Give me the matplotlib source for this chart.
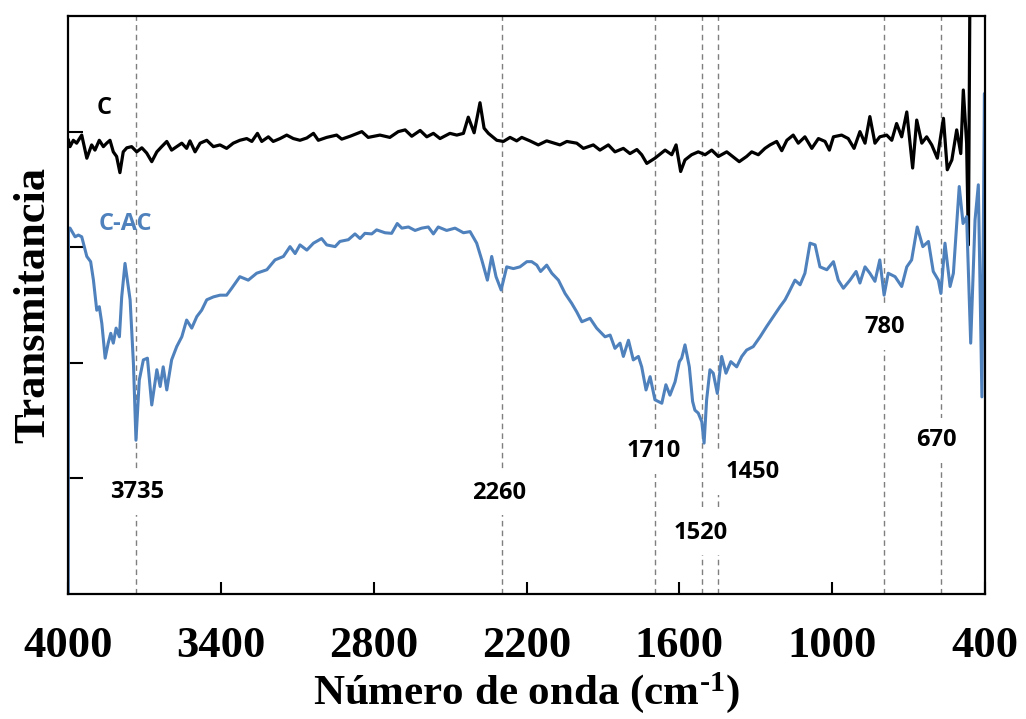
import numpy as np
import matplotlib
matplotlib.use("Agg")
import matplotlib.pyplot as plt

plt.rcParams["mathtext.fontset"] = "custom"
plt.rcParams["mathtext.bf"] = "Liberation Serif:bold"
plt.rcParams["mathtext.rm"] = "Liberation Serif:bold"
plt.rcParams["mathtext.default"] = "bf"

# wavenumber (cm-1) and transmittance (a.u.)
wn_c = [3999, 3993, 3980, 3967, 3947, 3927, 3908, 3895, 3878, 3862, 3849, 3836, 3823, 3810,
        3797, 3784, 3770, 3751, 3731, 3711, 3692, 3672, 3652, 3633, 3613, 3594, 3574, 3554,
        3535, 3522, 3502, 3482, 3456, 3430, 3404, 3378, 3352, 3326, 3299, 3279, 3257, 3240,
        3214, 3195, 3168, 3142, 3116, 3090, 3063, 3037, 3018, 2985, 2946, 2926, 2893, 2847,
        2822, 2776, 2737, 2704, 2677, 2651, 2618, 2592, 2566, 2540, 2501, 2474, 2448, 2429,
        2406, 2383, 2367, 2350, 2317, 2291, 2265, 2239, 2219, 2187, 2154, 2121, 2069, 2042,
        2003, 1977, 1938, 1912, 1879, 1853, 1820, 1794, 1767, 1748, 1728, 1696, 1656, 1630,
        1613, 1595, 1578, 1552, 1526, 1499, 1473, 1447, 1414, 1388, 1365, 1336, 1316, 1290,
        1264, 1244, 1218, 1198, 1178, 1153, 1133, 1107, 1080, 1054, 1028, 1011, 995, 963,
        937, 914, 891, 871, 852, 832, 813, 786, 766, 747, 727, 707, 684, 668, 648, 629, 609,
        587, 563, 548, 530, 511, 495, 485, 472, 465, 459]
t_c = [78.5, 77.4, 78.5, 78.0, 79.4, 75.4, 77.7, 76.8, 78.5, 77.4, 78.0, 78.5, 76.5, 75.7,
       72.9, 76.5, 77.2, 77.4, 76.5, 77.2, 76.3, 74.8, 76.5, 77.4, 78.3, 76.8, 77.4, 78.0,
       77.1, 78.4, 76.5, 78.0, 78.5, 77.4, 77.7, 77.1, 78.0, 78.5, 78.8, 78.3, 79.7, 78.3,
       79.1, 78.3, 78.8, 79.4, 78.8, 78.5, 78.9, 79.7, 78.5, 79.0, 79.4, 78.7, 79.2, 80.0,
       79.0, 79.4, 79.0, 80.0, 80.3, 79.2, 80.2, 79.1, 79.7, 78.8, 79.7, 79.4, 79.7, 82.5,
       79.8, 85.0, 80.6, 79.7, 78.5, 78.3, 79.0, 78.4, 79.0, 78.4, 77.7, 78.4, 77.7, 78.3,
       78.0, 77.1, 77.7, 76.8, 77.7, 76.5, 77.1, 76.2, 76.9, 76.0, 74.5, 75.4, 76.8, 76.0,
       77.7, 73.1, 75.1, 76.0, 76.5, 76.0, 76.8, 75.7, 76.5, 75.6, 74.8, 75.7, 76.5, 76.0,
       77.1, 77.7, 78.3, 76.7, 78.5, 79.4, 78.0, 79.1, 77.1, 78.8, 78.3, 76.8, 79.1, 79.4,
       78.8, 77.1, 80.0, 78.0, 82.6, 78.0, 79.1, 79.4, 78.5, 81.4, 79.1, 83.4, 73.7, 82.0,
       78.0, 79.1, 77.7, 75.4, 82.3, 73.4, 75.1, 80.3, 76.2, 87.2, 78.0, 60.4, 105.0]

wn_cac = [4000, 3999, 3993, 3973, 3960, 3947, 3927, 3912, 3901, 3888, 3878, 3868, 3855, 3843,
          3833, 3823, 3812, 3799, 3790, 3777, 3757, 3744, 3734, 3721, 3705, 3689, 3672, 3652,
          3639, 3627, 3613, 3594, 3574, 3554, 3535, 3515, 3495, 3476, 3456, 3430, 3404, 3378,
          3358, 3326, 3293, 3260, 3220, 3188, 3155, 3129, 3109, 3090, 3063, 3037, 3005, 2985,
          2952, 2933, 2900, 2874, 2854, 2835, 2808, 2789, 2756, 2730, 2708, 2690, 2664, 2638,
          2612, 2586, 2566, 2547, 2514, 2481, 2448, 2422, 2396, 2376, 2354, 2337, 2320, 2300,
          2278, 2252, 2226, 2199, 2180, 2160, 2145, 2121, 2101, 2075, 2049, 2023, 2003, 1983,
          1951, 1925, 1905, 1892, 1872, 1853, 1833, 1820, 1800, 1781, 1761, 1748, 1731, 1715,
          1696, 1669, 1653, 1637, 1617, 1600, 1591, 1578, 1561, 1548, 1539, 1526, 1512, 1503,
          1493, 1480, 1467, 1451, 1434, 1417, 1398, 1375, 1355, 1336, 1310, 1283, 1257, 1231,
          1205, 1185, 1172, 1146, 1126, 1107, 1087, 1067, 1048, 1021, 995, 976, 956, 930, 906,
          891, 871, 852, 832, 813, 796, 780, 753, 727, 707, 688, 666, 644, 622, 603, 583, 573,
          557, 537, 524, 501, 486, 472, 456, 439, 426, 412, 402, 400]
t_cac = [-3.0, 63.3, 63.3, 61.8, 62.1, 61.8, 58.4, 57.5, 54.3, 49.1, 49.7, 46.8, 40.8, 43.4,
         45.1, 43.4, 46.0, 44.5, 51.4, 57.2, 50.9, 39.9, 26.6, 37.0, 40.5, 40.8, 32.7, 38.8,
         35.9, 39.3, 35.3, 40.5, 42.8, 44.5, 47.4, 46.0, 48.0, 49.1, 50.9, 51.4, 51.7, 51.7,
         52.9, 54.9, 54.3, 55.5, 56.1, 57.8, 58.4, 60.1, 58.9, 60.4, 59.5, 60.7, 61.5, 60.4,
         60.1, 61.0, 61.3, 62.3, 61.5, 62.4, 62.3, 63.0, 62.5, 62.4, 64.1, 63.3, 63.5, 62.9,
         63.3, 63.5, 62.3, 63.5, 62.9, 63.3, 62.5, 62.7, 60.7, 57.8, 54.3, 58.4, 54.9, 52.6,
         56.6, 56.3, 56.6, 57.5, 57.5, 56.9, 55.8, 56.9, 55.5, 54.3, 52.0, 50.3, 48.8, 47.1,
         47.7, 46.0, 45.1, 44.5, 44.8, 42.5, 43.4, 41.1, 43.9, 40.5, 41.1, 39.3, 35.3, 37.6,
         33.6, 33.0, 36.2, 34.4, 36.7, 40.2, 40.8, 43.1, 39.3, 33.3, 31.8, 31.3, 29.8, 26.1,
         33.6, 38.8, 38.2, 34.7, 41.1, 38.2, 40.2, 39.3, 41.1, 42.2, 42.8, 44.5, 46.3, 48.0,
         49.7, 50.9, 52.0, 54.3, 53.5, 55.5, 60.7, 60.4, 56.6, 56.1, 57.5, 54.3, 52.9, 54.3, 55.8,
         53.8, 56.6, 55.5, 54.1, 57.8, 51.7, 55.5, 54.9, 53.2, 56.6, 57.8, 63.5, 60.1, 61.0, 55.8,
         54.3, 52.0, 60.7, 53.2, 55.5, 70.5, 64.1, 65.3, 43.4, 64.7, 70.8, 34.1, 86.6, 53.6]

peak_lines = [3735, 2295, 1695, 1510, 1448, 795, 572]
peak_labels = ["3735", "2260", "1710", "1520", "1450", "780", "670"]
label_pos = [(3728, 17.6), (2308, 17.5), (1700, 24.7), (1517, 10.6), (1313, 21.1), (793, 46.2), (589, 26.6)]

BLUE = "#4F81BD"

fig = plt.figure(figsize=(10.26, 7.19), dpi=100)
ax = fig.add_axes([0.0665, 0.1739, 0.8935, 0.8038])

for w in peak_lines:
    ax.axvline(w, color="#7f7f7f", lw=1.0, ls=(0, (4, 3)), zorder=1)

ax.plot(wn_c, t_c, color="black", lw=2.3, zorder=2)
ax.plot(wn_cac, t_cac, color=BLUE, lw=2.2, zorder=2)

lab_font = dict(family="Open Sans", weight="bold", fontsize=17)
for txt, (x, y) in zip(peak_labels, label_pos):
    ax.text(x, y, txt, ha="center", va="center", zorder=3,
            bbox=dict(boxstyle="square,pad=0.45", fc="white", ec="none"), **lab_font)
ax.text(3859, 84.1, "C", ha="center", va="center", color="black", **lab_font)
ax.text(3777, 64.0, "C-AC", ha="center", va="center", color=BLUE, **lab_font)

ax.set_xlim(4000, 400)
ax.set_ylim(0, 100)
ax.set_xticks([4000, 3400, 2800, 2200, 1600, 1000, 400])
ax.set_yticks([20, 40, 60, 80])
ax.set_yticklabels([])
ax.tick_params(axis="x", direction="in", length=8.5, width=1.5, pad=23)
ax.tick_params(axis="y", direction="in", length=11, width=1.5)
for lbl in ax.get_xticklabels():
    lbl.set_fontfamily("Liberation Serif")
    lbl.set_fontweight("bold")
    lbl.set_fontsize(32)
for s in ax.spines.values():
    s.set_linewidth(1.6)
    s.set_color("black")

ax.set_xlabel("Número de onda (cm$^{\u2010 1}$)", family="Liberation Serif", weight="bold",
              fontsize=31, labelpad=3)
ax.set_ylabel("Transmitancia", family="Liberation Serif", weight="bold", fontsize=32,
              labelpad=7)

fig.savefig("out.png", dpi=100)
